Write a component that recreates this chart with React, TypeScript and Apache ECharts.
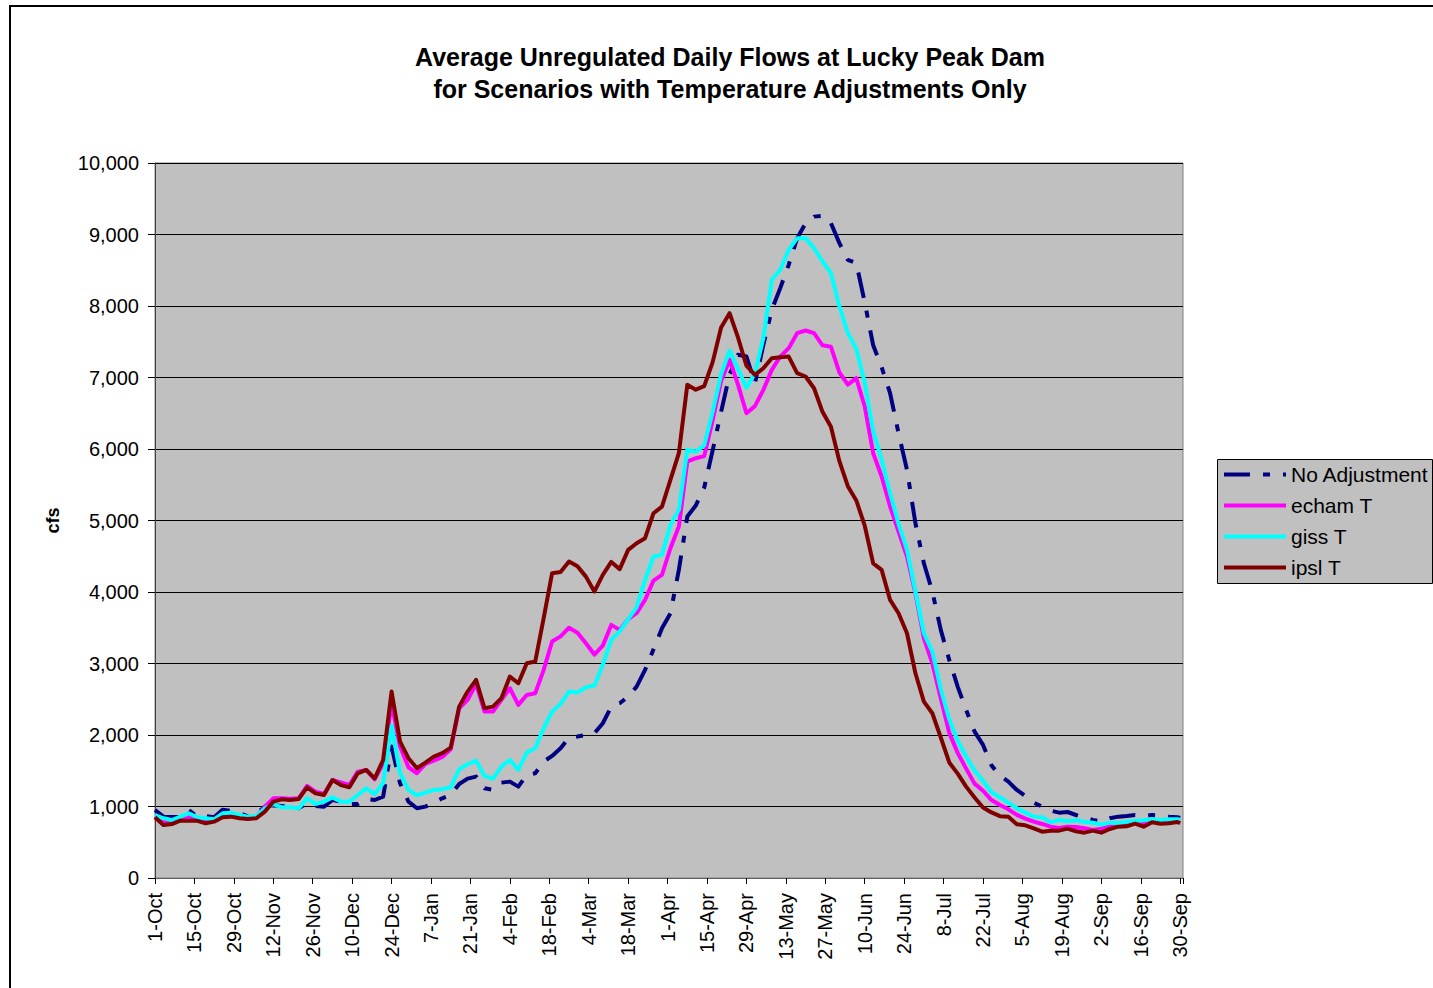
import React, { useEffect, useRef } from 'react';
import * as echarts from 'echarts';

// Day index from 1-Oct (0) to 30-Sep (364)
const days = [
  0, 3, 6, 9, 12, 15, 18, 21, 24, 27,
  30, 33, 36, 39, 42, 45, 48, 51, 54, 57,
  60, 63, 66, 69, 72, 75, 78, 81, 84, 87,
  90, 93, 96, 99, 102, 105, 108, 111, 114, 117,
  120, 123, 126, 129, 132, 135, 138, 141, 144, 147,
  150, 153, 156, 159, 162, 165, 168, 171, 174, 177,
  180, 183, 186, 189, 192, 195, 198, 201, 204, 207,
  210, 213, 216, 219, 222, 225, 228, 231, 234, 237,
  240, 243, 246, 249, 252, 255, 258, 261, 264, 267,
  270, 273, 276, 279, 282, 285, 288, 291, 294, 297,
  300, 303, 306, 309, 312, 315, 318, 321, 324, 327,
  330, 333, 336, 339, 342, 345, 348, 351, 354, 357,
  360, 363, 364,
];

const tickLabels = [
  '1-Oct', '15-Oct', '29-Oct', '12-Nov', '26-Nov', '10-Dec', '24-Dec', '7-Jan', '21-Jan',
  '4-Feb', '18-Feb', '4-Mar', '18-Mar', '1-Apr', '15-Apr', '29-Apr', '13-May', '27-May',
  '10-Jun', '24-Jun', '8-Jul', '22-Jul', '5-Aug', '19-Aug', '2-Sep', '16-Sep', '30-Sep',
];

const noAdjustment = [
  951, 858, 853, 853, 951, 858, 867, 849, 956, 937,
  905, 863, 895, 998, 1017, 1007, 998, 975, 1045, 1007,
  998, 1091, 1068, 1035, 1035, 1105, 1091, 1138, 1838, 1325,
  1068, 975, 998, 1054, 1115, 1161, 1315, 1390, 1418, 1255,
  1232, 1334, 1348, 1278, 1441, 1465, 1628, 1707, 1815, 1964,
  1978, 2001, 2024, 2164, 2397, 2444, 2537, 2677, 2910, 3199,
  3493, 3700, 4309, 5055, 5209, 5460, 5980, 6520, 7040, 7317,
  7293, 6920, 7457, 7946, 8250, 8576, 8949, 9159, 9250, 9260,
  9159, 8879, 8646, 8599, 8050, 7450, 7144, 6780, 6221, 5708,
  4962, 4402, 4006, 3470, 3050, 2677, 2350, 2047, 1861, 1575,
  1432, 1348, 1231, 1147, 1054, 998, 942, 914, 923, 881,
  844, 812, 788, 835, 858, 867, 881, 867, 881, 872,
  858, 849, 840,
];

const echamT = [
  860, 800, 790, 830, 860, 830, 800, 810, 880, 890,
  860, 840, 850, 998, 1114, 1114, 1110, 1114, 1287, 1208,
  1175, 1371, 1338, 1301, 1488, 1511, 1380, 1600, 2444, 1838,
  1549, 1465, 1595, 1642, 1693, 1800, 2374, 2491, 2714, 2327,
  2327, 2491, 2654, 2421, 2560, 2584, 2910, 3307, 3380, 3500,
  3430, 3283, 3125, 3250, 3540, 3470, 3620, 3703, 3890, 4160,
  4239, 4612, 4915, 5825, 5871, 5900, 6400, 6950, 7247, 6900,
  6500, 6600, 6827, 7107, 7293, 7410, 7620, 7657, 7620, 7450,
  7430, 7070, 6900, 6990, 6594, 5941, 5615, 5195, 4845, 4496,
  3983, 3350, 3003, 2510, 2030, 1750, 1530, 1320, 1220, 1090,
  1020, 961, 882, 830, 788, 756, 718, 700, 718, 714,
  695, 672, 690, 718, 746, 751, 765, 765, 784, 788,
  798, 788, 790,
];

const gissT = [
  881, 835, 811, 858, 905, 849, 835, 821, 905, 914,
  881, 858, 867, 974, 1035, 989, 989, 974, 1114, 1035,
  1068, 1128, 1068, 1068, 1161, 1254, 1175, 1324, 2130, 1465,
  1232, 1157, 1194, 1232, 1241, 1269, 1521, 1591, 1642, 1427,
  1390, 1558, 1651, 1511, 1754, 1815, 2094, 2327, 2435, 2607,
  2593, 2668, 2693, 2980, 3330, 3450, 3620, 3785, 4170, 4496,
  4519, 4939, 5149, 5988, 5965, 6050, 6520, 7045, 7375, 7120,
  6857, 7060, 7550, 8366, 8506, 8785, 8949, 8949, 8809, 8622,
  8459, 7993, 7620, 7400, 6930, 6250, 5848, 5381, 4952, 4589,
  4006, 3423, 3167, 2640, 2220, 1920, 1700, 1500, 1360, 1200,
  1130, 1054, 975, 914, 858, 849, 779, 812, 793, 807,
  788, 774, 746, 774, 765, 788, 798, 807, 821, 812,
  821, 821, 815,
];

const ipslT = [
  850, 741, 755, 802, 802, 800, 765, 788, 849, 858,
  835, 825, 835, 928, 1068, 1100, 1091, 1105, 1268, 1184,
  1161, 1371, 1301, 1268, 1464, 1511, 1394, 1650, 2607, 1908,
  1675, 1535, 1614, 1698, 1745, 1824, 2397, 2607, 2770, 2374,
  2397, 2514, 2817, 2724, 3004, 3027, 3633, 4263, 4280, 4426,
  4360, 4215, 4006, 4240, 4420, 4320, 4589, 4682, 4752, 5102,
  5195, 5568, 5941, 6897, 6830, 6880, 7215, 7700, 7900, 7560,
  7165, 7037, 7130, 7270, 7284, 7293, 7060, 7014, 6850, 6520,
  6310, 5830, 5480, 5280, 4927, 4400, 4309, 3889, 3703, 3423,
  2863, 2467, 2304, 1965, 1616, 1460, 1278, 1126, 987, 917,
  865, 858, 751, 737, 695, 648, 662, 662, 690, 653,
  634, 662, 634, 686, 718, 723, 760, 718, 779, 760,
  765, 784, 765,
];

const seriesNames = ['No Adjustment', 'echam T', 'giss T', 'ipsl T'];
const seriesColors = ['#000080', '#ff00ff', '#00ffff', '#800000'];
const seriesValues = [noAdjustment, echamT, gissT, ipslT];

const FONT = '"Liberation Sans", Arial, Helvetica, sans-serif';

export default function App() {
  const ref = useRef<HTMLDivElement>(null);

  useEffect(() => {
    if (!ref.current) return;
    const chart = echarts.init(ref.current, undefined, { renderer: 'svg' });
    const series = seriesNames.map((name, si) => ({
      name,
      type: 'line',
      symbol: 'none',
      showSymbol: false,
      z: 2 + si,
      data: days.map((d, i) => [d, seriesValues[si][i]]),
      lineStyle: {
        color: seriesColors[si],
        width: 4,
        type: si === 0 ? [26, 13, 7, 13] : 'solid',
        cap: 'butt',
        join: 'round',
      },
      itemStyle: { color: seriesColors[si] },
    }));

    chart.setOption({
      animation: false,
      backgroundColor: '#ffffff',
      title: {
        text: 'Average Unregulated Daily Flows at Lucky Peak Dam\nfor Scenarios with Temperature Adjustments Only',
        left: 730,
        top: 41,
        padding: 0,
        textAlign: 'center',
        textVerticalAlign: 'top',
        textStyle: {
          fontFamily: FONT,
          fontSize: 25,
          fontWeight: 'bold',
          color: '#000',
          lineHeight: 32,
        },
      },
      graphic: [
        {
          type: 'rect',
          z: 0,
          silent: true,
          shape: { x: 10, y: 6, width: 1440, height: 1000 },
          style: { fill: 'none', stroke: '#000', lineWidth: 2 },
        },
        {
          type: 'rect',
          z: 1,
          silent: true,
          shape: { x: 1217.5, y: 459.5, width: 215, height: 124 },
          style: { fill: '#c0c0c0', stroke: '#000', lineWidth: 1 },
        },
      ],
      legend: {
        orient: 'vertical',
        left: 1222,
        top: 464,
        padding: 0,
        itemWidth: 62,
        itemHeight: 14,
        itemGap: 10,
        z: 5,
        data: seriesNames,
        itemStyle: { opacity: 0, color: 'transparent', borderColor: 'transparent', borderWidth: 0 },
        lineStyle: { width: 4 },
        textStyle: { fontFamily: FONT, fontSize: 21, color: '#000' },
      },
      grid: {
        left: 155,
        top: 163,
        width: 1028,
        height: 715,
        show: true,
        backgroundColor: '#c0c0c0',
        borderColor: '#808080',
        borderWidth: 1,
      },
      xAxis: {
        type: 'value',
        min: 0,
        max: 365,
        interval: 14,
        axisLine: { show: true, onZero: false, lineStyle: { color: '#606060', width: 1 } },
        axisTick: { show: true, length: 6, lineStyle: { color: '#000' } },
        splitLine: { show: false },
        axisLabel: {
          rotate: 90,
          margin: 15,
          fontFamily: FONT,
          fontSize: 20,
          color: '#000',
          showMaxLabel: true,
          formatter: (v: number) => (v % 14 === 0 && v / 14 < tickLabels.length ? tickLabels[v / 14] : ''),
        },
      },
      yAxis: {
        type: 'value',
        min: 0,
        max: 10000,
        interval: 1000,
        name: 'cfs',
        nameLocation: 'middle',
        nameRotate: 90,
        nameGap: 93,
        nameTextStyle: { fontFamily: FONT, fontSize: 18, fontWeight: 'bold', color: '#000' },
        axisLine: { show: true, lineStyle: { color: '#404040', width: 1 } },
        axisTick: { show: true, length: 7, lineStyle: { color: '#000' } },
        splitLine: { show: true, lineStyle: { color: '#000', width: 1 } },
        axisLabel: {
          margin: 16,
          fontFamily: FONT,
          fontSize: 20,
          color: '#000',
          formatter: (v: number) => v.toLocaleString('en-US'),
        },
      },
      series,
    });

    return () => chart.dispose();
  }, []);

  return (
    <div
      ref={ref}
      style={{ position: 'fixed', left: 0, top: 0, width: 1433, height: 988, background: '#fff' }}
    />
  );
}
